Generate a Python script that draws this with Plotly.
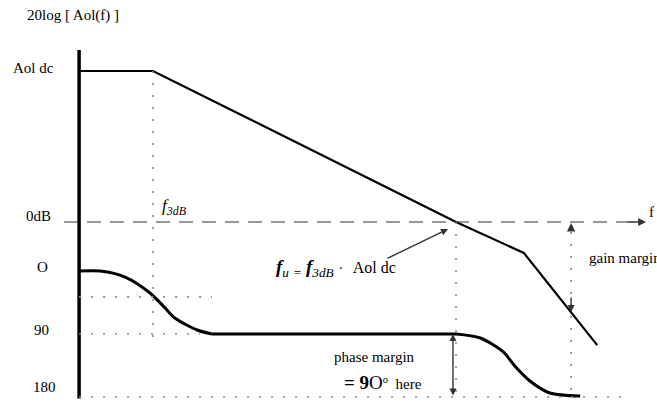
import plotly.graph_objects as go

W, H = 657, 406

# ---------------- data (x: log10 frequency in decades, gain in dB, phase lag in degrees)
gain_decade = [-0.22, 1.0, 6.0, 7.12, 8.33]
gain_db = [100, 100, 0, -20.5, -81.5]

phase_decade = [-0.22, 0.13, 0.54, 0.95, 1.2, 1.36, 1.73, 1.97,
                6.0, 6.4, 6.78, 6.97, 7.22, 7.55, 8.05]
phase_deg = [0, 0, 8.6, 31.4, 52.9, 67.1, 84.3, 90,
             90, 95.7, 115.7, 135.7, 157.1, 174.3, 178.6]

AOL_DC_DB = 100
F3DB_DECADE = 1.0
FU_DECADE = 6.0
F_GM_DECADE = 7.9
PHASE_AT_F3DB = 37
phase_ticks = [0, 90, 180]
phase_tick_text = ["O", "90", "180"]

# ---------------- axis geometry
X_RANGE = [-1.525, 9.317]
GAIN_RANGE = [-121.85, 147.02]      # bottom, top
PHASE_RANGE = [192.86, -387.14]     # bottom, top (reversed)


def px_x(p):
    return X_RANGE[0] + (X_RANGE[1] - X_RANGE[0]) * p / W


def phase_to_db(deg):
    frac = (deg - PHASE_RANGE[1]) / (PHASE_RANGE[0] - PHASE_RANGE[1])
    return GAIN_RANGE[1] - frac * (GAIN_RANGE[1] - GAIN_RANGE[0])


def px_y_db(p):
    return GAIN_RANGE[1] - (GAIN_RANGE[1] - GAIN_RANGE[0]) * p / H


FONT = "Liberation Serif"
BLACK = "#000000"
DOT = "#8a8a8a"
FS = 15

fig = go.Figure()

# gain curve
fig.add_trace(go.Scatter(x=gain_decade, y=gain_db, mode="lines",
                         line=dict(color=BLACK, width=2.2), yaxis="y",
                         hoverinfo="skip", showlegend=False))
# phase curve (two rounded bends and a flat section)
split1, split2 = 7, 8
for xs, ys, shape in [
    (phase_decade[:split1 + 1], phase_deg[:split1 + 1], "spline"),
    (phase_decade[split1:split2 + 1], phase_deg[split1:split2 + 1], "linear"),
    (phase_decade[split2:], phase_deg[split2:], "spline"),
]:
    fig.add_trace(go.Scatter(x=xs, y=ys, mode="lines",
                             line=dict(color=BLACK, width=3, shape=shape, smoothing=0.8),
                             yaxis="y2", hoverinfo="skip", showlegend=False))

shapes = []
dots = dict(color=DOT, width=1.6, dash="2px,10px")
# vertical axis
shapes.append(dict(type="line", xref="x", yref="y", x0=gain_decade[0], x1=gain_decade[0],
                   y0=px_y_db(50), y1=phase_to_db(182), line=dict(color=BLACK, width=3.5)))
# 0 dB dashed line
shapes.append(dict(type="line", xref="x", yref="y", x0=px_x(64), x1=px_x(628), y0=0, y1=0,
                   line=dict(color="#333333", width=1.2, dash="14px,9px")))
# dotted guides
shapes.append(dict(type="line", xref="x", yref="y", x0=F3DB_DECADE, x1=F3DB_DECADE,
                   y0=AOL_DC_DB, y1=phase_to_db(103), line=dots))
shapes.append(dict(type="line", xref="x", yref="y", x0=FU_DECADE, x1=FU_DECADE,
                   y0=0, y1=phase_to_db(180), line=dots))
shapes.append(dict(type="line", xref="x", yref="y", x0=F_GM_DECADE, x1=F_GM_DECADE,
                   y0=px_y_db(232), y1=phase_to_db(180), line=dots))
shapes.append(dict(type="line", xref="x", yref="y2", x0=gain_decade[0], x1=px_x(212),
                   y0=PHASE_AT_F3DB, y1=PHASE_AT_F3DB, line=dots))
shapes.append(dict(type="line", xref="x", yref="y2", x0=gain_decade[0], x1=px_x(200),
                   y0=90, y1=90, line=dots))
shapes.append(dict(type="line", xref="x", yref="y2", x0=gain_decade[0], x1=px_x(630),
                   y0=180, y1=180, line=dots))

ann = []
tf = dict(family=FONT, size=FS, color=BLACK)


def label(text, xp, yp, anchor="left", size=FS, **kw):
    ann.append(dict(text=text, xref="paper", yref="paper", x=xp / W, y=1 - yp / H,
                    xanchor=anchor, yanchor="middle", showarrow=False,
                    font=dict(family=FONT, size=size, color=BLACK), **kw))


label("20log [ Aol(f) ]", 25, 16)
label("Aol dc", 11, 68)
label("0dB", 24, 216)
for v, t, xp, ys in zip(phase_ticks, phase_tick_text, [35, 32, 31], [-6, -6, 0]):
    ann.append(dict(text=t, xref="paper", yref="y2", x=xp / W, y=v, xanchor="left",
                    yanchor="bottom", showarrow=False, yshift=ys, font=tf))
label("f", 647, 212)
label("<i>f</i><sub><i>3dB</i></sub>", 160, 207, size=17)
label("<b><i>f</i></b><sub><i>u</i></sub> <sub>=</sub> <b><i>f</i></b><sub><i>3dB</i></sub>"
      " <span style='font-size:14px'>·</span>  <span style='font-size:16px'>Aol dc</span>",
      274, 268, size=19)
label("phase margin", 332, 357)
label("<span style='font-size:19px'><b>= 9</b>O</span><sup>o</sup>  here", 342, 382)
label("gain margin", 587, 258)

# arrows
arrow = dict(showarrow=True, text="", xref="x", yref="y", axref="x", ayref="y",
             arrowcolor="#333333")
ann.append(dict(arrow, x=px_x(646), y=0, ax=px_x(626), ay=0, arrowhead=2,
                arrowsize=1.2, arrowwidth=1.3))
ann.append(dict(arrow, x=px_x(448), y=px_y_db(229), ax=px_x(386), ay=px_y_db(259),
                arrowhead=2, arrowsize=1, arrowwidth=1.4))
ann.append(dict(arrow, x=FU_DECADE - 0.05, y=phase_to_db(90), ax=FU_DECADE - 0.05,
                ay=phase_to_db(180), arrowhead=2, startarrowhead=2, arrowside="end+start",
                arrowsize=1, startarrowsize=1, arrowwidth=1.4))
ann.append(dict(arrow, x=F_GM_DECADE, y=px_y_db(223), ax=F_GM_DECADE, ay=px_y_db(232),
                arrowhead=2, arrowsize=1.2, arrowwidth=1.4))
ann.append(dict(arrow, x=F_GM_DECADE, y=px_y_db(312), ax=F_GM_DECADE, ay=px_y_db(296),
                arrowhead=2, arrowsize=1, arrowwidth=1.4))

fig.update_layout(
    width=W, height=H, margin=dict(l=0, r=0, t=0, b=0),
    paper_bgcolor="white", plot_bgcolor="white",
    xaxis=dict(range=X_RANGE, visible=False, fixedrange=True),
    yaxis=dict(range=GAIN_RANGE, visible=False, fixedrange=True),
    yaxis2=dict(range=PHASE_RANGE, visible=False, overlaying="y", fixedrange=True),
    shapes=shapes, annotations=ann, showlegend=False,
)

fig.write_html("out.html", config={"displayModeBar": False},
               post_script="document.body.style.margin='0';document.body.style.overflow='hidden';")
